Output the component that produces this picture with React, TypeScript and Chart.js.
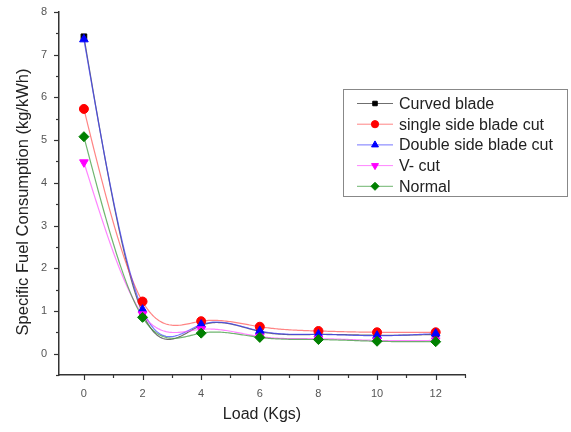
import React, { useEffect, useRef } from "react";
import { Chart, registerables } from "chart.js";
import { drawPoint } from "chart.js/helpers";

Chart.register(...registerables);

const loads = [0, 2, 4, 6, 8, 10, 12];
const curvedBlade = [7.42, 0.95, 0.66, 0.52, 0.45, 0.43, 0.45];
const singleSide = [5.73, 1.22, 0.76, 0.63, 0.53, 0.5, 0.5];
const doubleSide = [7.36, 1.03, 0.68, 0.53, 0.45, 0.42, 0.47];
const vCut = [4.48, 0.92, 0.57, 0.4, 0.35, 0.31, 0.31];
const normal = [5.08, 0.85, 0.48, 0.38, 0.33, 0.29, 0.28];

const seriesNames = ["Curved blade", "single side blade cut", "Double side blade cut", "V- cut", "Normal"];
const xTickLabels = ["0", "2", "4", "6", "8", "10", "12"];
const yTickLabels = ["0", "1", "2", "3", "4", "5", "6", "7", "8"];
const xTitle = "Load (Kgs)";
const yTitle = "Specific Fuel Consumption (kg/kWh)";

const FONT = "'Liberation Sans', Arial, sans-serif";

const styles = [
  { line: "rgba(50,50,50,0.7)", point: "#000000", pointStyle: "rect", rotation: 0, radius: 4 },
  { line: "rgba(255,80,80,0.7)", point: "#ff0000", pointStyle: "circle", rotation: 0, radius: 4.5 },
  { line: "rgba(60,60,255,0.7)", point: "#0000ff", pointStyle: "triangle", rotation: 0, radius: 5 },
  { line: "rgba(255,80,255,0.7)", point: "#ff00ff", pointStyle: "triangle", rotation: 180, radius: 5 },
  { line: "rgba(50,150,50,0.7)", point: "#008000", pointStyle: "rectRot", rotation: 0, radius: 5 },
];

// natural cubic spline second derivatives
function splineM(xs: number[], ys: number[]): number[] {
  const n = xs.length;
  const M = new Array(n).fill(0);
  if (n < 3) return M;
  const a: number[] = [], b: number[] = [], c: number[] = [], d: number[] = [];
  for (let i = 1; i < n - 1; i++) {
    const h0 = xs[i] - xs[i - 1];
    const h1 = xs[i + 1] - xs[i];
    a.push(h0);
    b.push(2 * (h0 + h1));
    c.push(h1);
    d.push(6 * ((ys[i + 1] - ys[i]) / h1 - (ys[i] - ys[i - 1]) / h0));
  }
  const m = b.length;
  for (let i = 1; i < m; i++) {
    const w = a[i] / b[i - 1];
    b[i] -= w * c[i - 1];
    d[i] -= w * d[i - 1];
  }
  const sol = new Array(m).fill(0);
  sol[m - 1] = d[m - 1] / b[m - 1];
  for (let i = m - 2; i >= 0; i--) sol[i] = (d[i] - c[i] * sol[i + 1]) / b[i];
  for (let i = 0; i < m; i++) M[i + 1] = sol[i];
  return M;
}

const splinePlugin = {
  id: "naturalSpline",
  beforeDatasetsDraw(chart: any) {
    const ctx = chart.ctx;
    const xs = chart.scales.x;
    const ys = chart.scales.y;
    const area = chart.chartArea;
    ctx.save();
    ctx.beginPath();
    ctx.rect(area.left, area.top, area.right - area.left, area.bottom - area.top);
    ctx.clip();
    chart.data.datasets.forEach((ds: any, i: number) => {
      const px = ds.data.map((p: any) => p.x);
      const py = ds.data.map((p: any) => p.y);
      const M = splineM(px, py);
      ctx.strokeStyle = styles[i].line;
      ctx.lineWidth = 1.2;
      ctx.beginPath();
      let first = true;
      for (let k = 0; k < px.length - 1; k++) {
        const h = px[k + 1] - px[k];
        const steps = 40;
        for (let s = 0; s <= steps; s++) {
          const x = px[k] + (h * s) / steps;
          const A = (px[k + 1] - x) / h;
          const B = (x - px[k]) / h;
          const y =
            A * py[k] + B * py[k + 1] + ((A * A * A - A) * M[k] + (B * B * B - B) * M[k + 1]) * (h * h) / 6;
          const X = xs.getPixelForValue(x);
          const Y = ys.getPixelForValue(y);
          if (first) {
            ctx.moveTo(X, Y);
            first = false;
          } else ctx.lineTo(X, Y);
        }
      }
      ctx.stroke();
    });
    ctx.restore();
  },
};

const tickPlugin = {
  id: "axisTicks",
  afterDraw(chart: any) {
    const ctx = chart.ctx;
    const xs = chart.scales.x;
    const ys = chart.scales.y;
    const area = chart.chartArea;
    ctx.save();
    ctx.strokeStyle = "#333";
    ctx.lineWidth = 1.2;
    for (let v = 0; v <= 13; v++) {
      const px = Math.round(xs.getPixelForValue(v)) + 0.5;
      const len = v % 2 === 0 ? 5 : 3;
      ctx.beginPath();
      ctx.moveTo(px, area.bottom);
      ctx.lineTo(px, area.bottom + len);
      ctx.stroke();
    }
    for (let i = -1; i <= 16; i++) {
      const v = i / 2;
      const py = Math.round(ys.getPixelForValue(v)) + 0.5;
      const len = i % 2 === 0 ? 5 : 3;
      ctx.beginPath();
      ctx.moveTo(area.left, py);
      ctx.lineTo(area.left - len, py);
      ctx.stroke();
    }
    // y title
    ctx.fillStyle = "#222";
    ctx.font = `16.5px ${FONT}`;
    ctx.textAlign = "center";
    ctx.textBaseline = "middle";
    ctx.translate(23, 202);
    ctx.rotate(-Math.PI / 2);
    ctx.fillText(yTitle, 0, 0);
    ctx.restore();
  },
};

const legendPlugin = {
  id: "boxLegend",
  afterDraw(chart: any) {
    const ctx = chart.ctx;
    const bx = 343.5, by = 89.5, bw = 224, bh = 107;
    ctx.save();
    ctx.fillStyle = "#ffffff";
    ctx.fillRect(bx, by, bw, bh);
    ctx.strokeStyle = "#888";
    ctx.lineWidth = 1;
    ctx.strokeRect(bx, by, bw, bh);
    ctx.font = `16px ${FONT}`;
    ctx.textBaseline = "middle";
    chart.data.datasets.forEach((ds: any, i: number) => {
      const y = 103.5 + i * 20.7;
      const st = styles[i];
      ctx.strokeStyle = st.line;
      ctx.lineWidth = 1;
      ctx.beginPath();
      ctx.moveTo(357, y);
      ctx.lineTo(393, y);
      ctx.stroke();
      ctx.fillStyle = st.point;
      ctx.strokeStyle = st.point;
      drawPoint(ctx, { pointStyle: st.pointStyle, rotation: st.rotation, radius: st.radius * 0.8, borderWidth: 1 }, 375, y);
      ctx.fillStyle = "#222";
      ctx.fillText(ds.label, 399, y + 1);
    });
    ctx.restore();
  },
};

export default function App() {
  const ref = useRef<HTMLCanvasElement | null>(null);
  useEffect(() => {
    if (!ref.current) return;
    const all = [curvedBlade, singleSide, doubleSide, vCut, normal];
    const chart = new Chart(ref.current, {
      type: "line",
      data: {
        datasets: all.map((vals, i) => ({
          label: seriesNames[i],
          data: loads.map((x, j) => ({ x, y: vals[j] })),
          showLine: false,
          borderColor: styles[i].line,
          backgroundColor: styles[i].point,
          pointBackgroundColor: styles[i].point,
          pointBorderColor: styles[i].point,
          pointStyle: styles[i].pointStyle as any,
          rotation: styles[i].rotation,
          pointRadius: styles[i].radius,
          pointBorderWidth: 1,
          fill: false,
          order: 5 - i,
        })),
      },
      options: {
        animation: false,
        responsive: false,
        maintainAspectRatio: false,
        layout: { padding: { left: 0, right: 106, top: 12, bottom: 0 } },
        plugins: { legend: { display: false }, tooltip: { enabled: false } },
        scales: {
          x: {
            type: "linear",
            min: -0.85,
            max: 13,
            afterBuildTicks: (scale: any) => {
              scale.ticks = xTickLabels.map((t) => ({ value: Number(t) }));
            },
            ticks: {
              callback: (v: any) => String(v),
              color: "#555",
              font: { family: FONT, size: 11 },
              padding: 12,
              maxRotation: 0,
              autoSkip: false,
            },
            grid: { display: false, drawTicks: false },
            border: { display: true, color: "#333", width: 1.5 },
            title: {
              display: true,
              text: xTitle,
              color: "#222",
              font: { family: FONT, size: 16 },
              padding: { top: 0, bottom: 8 },
            },
            afterFit: (scale: any) => {
              scale.height = 57;
              scale.paddingLeft = 0;
              scale.paddingRight = 0;
            },
          },
          y: {
            type: "linear",
            min: -0.5,
            max: 8,
            afterBuildTicks: (scale: any) => {
              scale.ticks = yTickLabels.map((t) => ({ value: Number(t) }));
            },
            ticks: {
              callback: (v: any) => String(v),
              color: "#555",
              font: { family: FONT, size: 11 },
              padding: 12,
              autoSkip: false,
            },
            grid: { display: false, drawTicks: false },
            border: { display: true, color: "#333", width: 1.5 },
            title: { display: false },
            afterFit: (scale: any) => {
              scale.width = 59;
              scale.paddingTop = 0;
              scale.paddingBottom = 0;
            },
          },
        },
      },
      plugins: [splinePlugin, tickPlugin, legendPlugin],
    });
    return () => chart.destroy();
  }, []);
  return (
    <div style={{ position: "fixed", left: 0, top: 0, width: 571, height: 432, background: "#fff" }}>
      <canvas ref={ref} width={571} height={432} style={{ width: 571, height: 432, display: "block" }} />
    </div>
  );
}
